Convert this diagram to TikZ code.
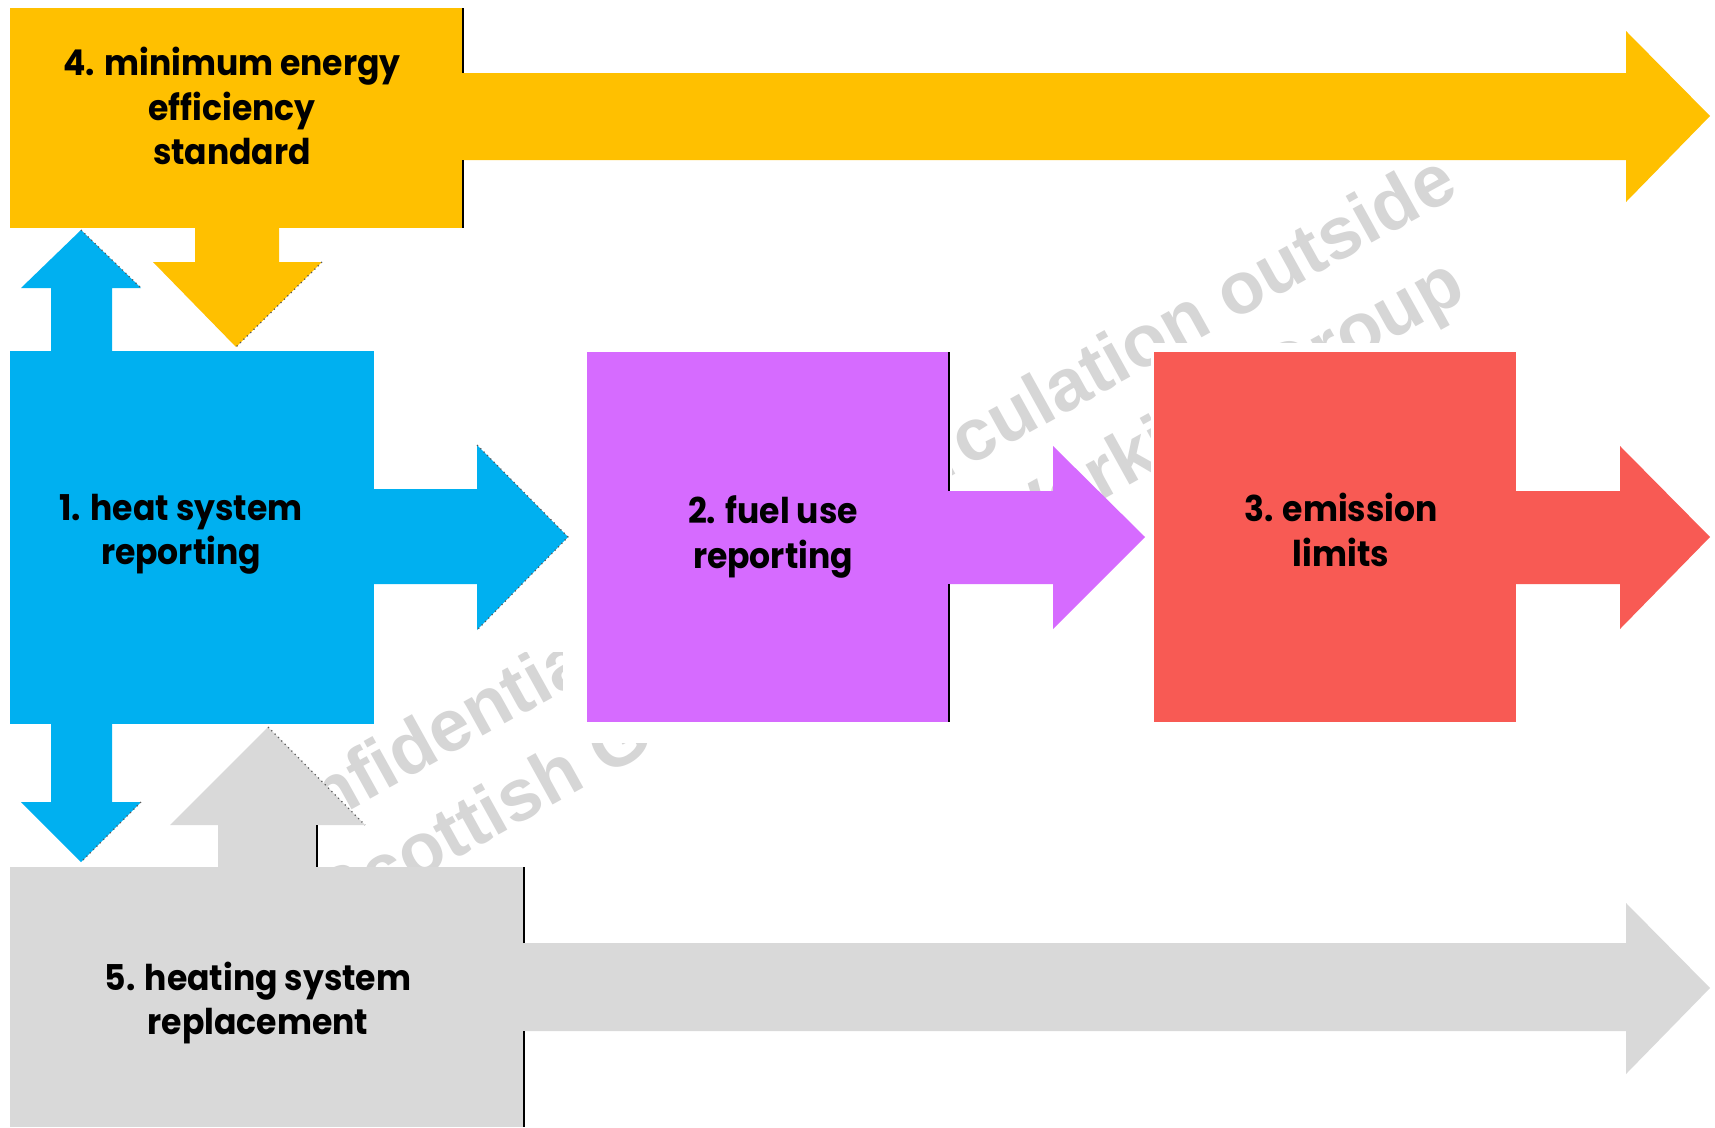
\documentclass[tikz,border=0pt]{standalone}
\usepackage{fontspec}
\usepackage{tikz}
\newfontfamily\boxfont{Poppins}[FakeStretch=0.93]
\newfontfamily\wmfont{Liberation Sans}
\definecolor{stdyellow}{HTML}{FFC000}
\definecolor{heatblue}{HTML}{00B0F0}
\definecolor{fuelpurple}{HTML}{D66BFF}
\definecolor{emisred}{HTML}{F85A54}
\definecolor{replgrey}{HTML}{D9D9D9}
\definecolor{wmgrey}{HTML}{D6D6D6}

\begin{document}
\begin{tikzpicture}[x=0.01cm,y=-0.01cm,
    boxlabel/.style={align=center,font=\boxfont\bfseries\fontsize{10.1}{12.6}\selectfont},
    wm/.style={text=wmgrey,rotate=29,anchor=base,inner sep=0pt,font=\wmfont\bfseries\fontsize{20.9}{24}\selectfont},
    rim/.style={black,line width=0.4pt},
    rimdot/.style={black!65,line width=0.35pt,densely dotted}]
    \useasboundingbox (0,0) rectangle (1715,1127);
    \fill[white] (0,0) rectangle (1715,1127);

    % Watermark
    \node[wm] (wmtop) at (850,533) {Confidential - not for circulation outside};
    \node[wm] (wmbot) at (901,612) {Scottish Government Working Group};

    % Masks
    \fill[white] (374,425) rectangle (563,652);
    \fill[white] (563,340) rectangle (952,743);
    \fill[white] (1151,343) rectangle (1530,735);

    % 4. standard
    \fill[stdyellow] (10,8) rectangle (463,228);
    \fill[stdyellow] (463,73) -- (1626,73) -- (1626,31) -- (1710,116) -- (1626,202) -- (1626,160) -- (463,160) -- cycle;
    \fill[stdyellow] (195,228) -- (279,228) -- (279,262) -- (322,262) -- (236,347) -- (153,262) -- (195,262) -- cycle;
    \draw[rim] (463,8) -- (463,73) (463,160) -- (463,228);
    \draw[rimdot] (322,262) -- (236,347);

    % 1. heat system
    \fill[heatblue] (10,351) rectangle (374,724);
    \fill[heatblue] (51,351) -- (51,288) -- (21,288) -- (81,230) -- (141,288) -- (112,288) -- (112,351) -- cycle;
    \fill[heatblue] (51,724) -- (51,802) -- (21,802) -- (81,862) -- (141,802) -- (112,802) -- (112,724) -- cycle;
    \fill[heatblue] (374,489) -- (477,489) -- (477,445) -- (568,537) -- (477,630) -- (477,584) -- (374,584) -- cycle;
    \draw[rimdot] (81,230) -- (141,288);
    \draw[rimdot] (141,802) -- (81,862);
    \draw[rimdot] (477,445) -- (568,537) -- (477,630);

    % 2. fuel use
    \fill[fuelpurple] (587,352) rectangle (949,722);
    \fill[fuelpurple] (949,491) -- (1053,491) -- (1053,446) -- (1145,537) -- (1053,629) -- (1053,584) -- (949,584) -- cycle;
    \draw[rim] (949,352) -- (949,491) (949,584) -- (949,722);

    % 3. emission
    \fill[emisred] (1154,352) rectangle (1516,722);
    \fill[emisred] (1516,491) -- (1620,491) -- (1620,446) -- (1710,537) -- (1620,629) -- (1620,584) -- (1516,584) -- cycle;

    % 5. replacement
    \fill[replgrey] (10,867) rectangle (524,1127);
    \fill[replgrey] (524,943) -- (1626,943) -- (1626,903) -- (1710,988) -- (1626,1074) -- (1626,1031) -- (524,1031) -- cycle;
    \fill[replgrey] (218,867) -- (218,825) -- (170,825) -- (268,727) -- (365,825) -- (317,825) -- (317,867) -- cycle;
    \draw[rim] (524,867) -- (524,943) (524,1031) -- (524,1127);
    \draw[rim] (317,825) -- (317,867);
    \draw[rimdot] (268,727) -- (365,825);

    % Labels
    \node[boxlabel] (standard) at (232,106) {4. minimum energy\\efficiency\\standard};
    \node[boxlabel] (heatrep) at (181,534) {1. heat system\\reporting};
    \node[boxlabel] (fueluse) at (773,537) {2. fuel use\\reporting};
    \node[boxlabel] (emission) at (1341,530) {3. emission\\limits};
    \node[boxlabel] (replace) at (258,1003) {5. heating system\\replacement};
\end{tikzpicture}
\end{document}
